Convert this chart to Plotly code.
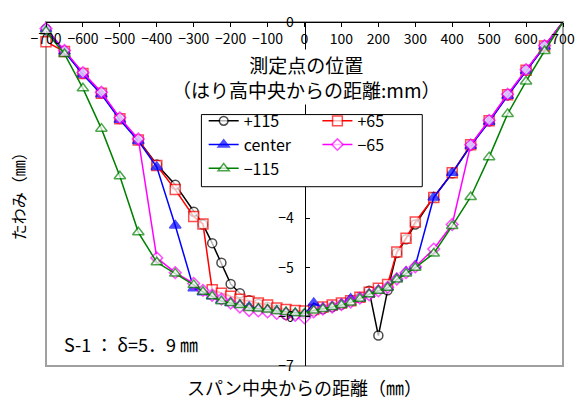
import plotly.graph_objects as go

# measurement positions (mm from span centre)
x_pos = [-700, -650, -600, -550, -500, -450, -400, -350,
         -300, -275, -250, -225, -200, -175, -150, -125, -100, -75, -50, -25,
         0, 25, 50, 75, 100, 125, 150, 175, 200, 225, 250, 275, 300,
         350, 400, 450, 500, 550, 600, 650, 700]

p115 = [-0.14, -0.60, -1.05, -1.45, -1.97, -2.40, -2.90, -3.31,
        -3.86, -4.12, -4.50, -4.90, -5.33, -5.52, -5.66, -5.74, -5.80, -5.85, -5.96, -5.95,
        -5.94, -5.88, -5.84, -5.80, -5.75, -5.68, -5.60, -5.47, -6.38, -5.46, -4.70, -4.42, -4.12,
        -3.56, -3.08, -2.51, -2.02, -1.49, -0.98, -0.49, 0.0]

p65 = [-0.40, -0.60, -1.05, -1.45, -1.97, -2.40, -2.92, -3.41,
       -3.96, -4.11, -5.45, -5.52, -5.58, -5.64, -5.68, -5.72, -5.76, -5.82, -5.85, -5.87,
       -5.88, -5.85, -5.80, -5.76, -5.72, -5.67, -5.60, -5.50, -5.42, -5.34, -4.68, -4.40, -4.07,
       -3.57, -3.07, -2.50, -2.01, -1.48, -0.98, -0.49, 0.0]

center = [-0.14, -0.60, -1.07, -1.47, -1.99, -2.42, -2.95, -4.14,
          -5.42, -5.50, -5.58, -5.66, -5.72, -5.76, -5.80, -5.84, -5.86, -5.88, -5.91, -5.93,
          -5.95, -5.72, -5.82, -5.80, -5.74, -5.63, -5.62, -5.54, -5.46, -5.40, -5.22, -5.08, -4.96,
          -3.57, -3.07, -2.52, -2.03, -1.50, -0.99, -0.50, 0.0]

m65 = [-0.13, -0.58, -1.03, -1.43, -1.95, -2.38, -4.80, -5.10,
       -5.32, -5.46, -5.56, -5.64, -5.72, -5.80, -5.87, -5.88, -5.90, -5.93, -5.95, -5.97,
       -6.02, -5.90, -5.84, -5.80, -5.75, -5.70, -5.62, -5.55, -5.47, -5.40, -5.23, -5.10, -4.98,
       -4.62, -4.12, -2.50, -2.00, -1.47, -0.97, -0.48, 0.0]

m115 = [-0.19, -0.65, -1.35, -2.17, -3.14, -4.28, -4.89, -5.12,
        -5.35, -5.49, -5.58, -5.68, -5.72, -5.76, -5.82, -5.83, -5.85, -5.88, -5.90, -5.92,
        -5.93, -5.87, -5.84, -5.80, -5.76, -5.71, -5.63, -5.54, -5.47, -5.41, -5.24, -5.12, -5.00,
        -4.71, -4.15, -3.56, -2.75, -1.87, -1.21, -0.59, 0.0]

series_names = ["+115", "+65", "center", "\u221265", "\u2212115"]
x_ticks = list(range(-700, 701, 100))
y_ticks = [0, -1, -2, -3, -4, -5, -6, -7]
# labels -1..-3 are hidden behind the title and legend box in the original
y_ticktext = ["0", "", "", "", "\u22124", "\u22125", "\u22126", "\u22127"]

FONT = "Noto Sans CJK JP"

styles = [
    dict(color="#000000", symbol="circle", fill="#ffffff", size=9, legend="legend"),
    dict(color="#ff0000", symbol="square", fill="#ffffff", size=10, legend="legend2"),
    dict(color="#0000ff", symbol="triangle-up", fill="#0000ff", size=10, legend="legend"),
    dict(color="#ff00ff", symbol="diamond", fill="#ffffff", size=9, legend="legend2"),
    dict(color="#008000", symbol="triangle-up", fill="#ffffff", size=10, legend="legend"),
]

fig = go.Figure()
n = len(x_pos)
for name, ys, st in zip(series_names, [p115, p65, center, m65, m115], styles):
    sizes = [st["size"]] * (n - 1) + [0]
    fig.add_trace(go.Scatter(
        x=x_pos, y=ys, name=name, mode="lines+markers",
        line=dict(color=st["color"], width=1.5),
        marker=dict(symbol=st["symbol"], size=sizes, color=st["fill"],
                    line=dict(color=st["color"], width=1.5)),
        legend=st["legend"], cliponaxis=False,
    ))

fig.update_layout(
    width=586, height=401,
    margin=dict(l=46, r=11, t=13, b=35),
    paper_bgcolor="white", plot_bgcolor="white",
    font=dict(family=FONT, color="black"),
    showlegend=True,
    xaxis=dict(range=[-700, 700], domain=[0, 1], anchor="free", position=1, side="bottom",
               showline=True, linecolor="black", linewidth=1, ticks="outside", ticklen=4,
               tickcolor="black", tickvals=x_ticks, showgrid=False, zeroline=False,
               ticklabeloverflow="allow",
               tickfont=dict(size=14, family=FONT)),
    yaxis=dict(range=[-7, 0], domain=[0, 1], anchor="free", position=0.5, side="left",
               showline=True, linecolor="black", linewidth=1, ticks="inside", ticklen=4,
               tickcolor="black", tickvals=y_ticks, ticktext=y_ticktext,
               showgrid=False, zeroline=False,
               ticklabelstandoff=8, tickfont=dict(size=14, family=FONT)),
    legend=dict(x=0.305, y=0.762, xanchor="left", yanchor="top", bgcolor="rgba(0,0,0,0)",
                font=dict(size=16, family=FONT), tracegroupgap=0),
    legend2=dict(x=0.525, y=0.762, xanchor="left", yanchor="top", bgcolor="rgba(0,0,0,0)",
                 font=dict(size=16, family=FONT), tracegroupgap=0),
    shapes=[
        dict(type="rect", xref="paper", yref="paper", x0=0, x1=1, y0=0, y1=1,
             line=dict(color="#a0a0a0", width=2), layer="below"),
        dict(type="rect", xref="paper", yref="paper", x0=0.3006, x1=0.7278, y0=0.5212, y1=0.7309,
             line=dict(color="black", width=1), fillcolor="white", layer="above"),
    ],
    annotations=[
        dict(text="測定点の位置<br>（はり高中央からの距離:mm）", xref="paper", yref="paper",
             x=0.502, y=0.84, xanchor="center", yanchor="middle", showarrow=False,
             bgcolor="white", font=dict(size=19, family=FONT)),
        dict(text="S-1 ： δ=5．9 ㎜", xref="paper", yref="paper", x=0.03, y=0.064,
             xanchor="left", yanchor="middle", showarrow=False, font=dict(size=18, family=FONT)),
        dict(text="たわみ（㎜）", xref="paper", yref="paper", x=-0.054, y=0.505,
             xanchor="center", yanchor="middle", textangle=-90, showarrow=False,
             font=dict(size=16, family=FONT)),
        dict(text="スパン中央からの距離（㎜）", xref="paper", yref="paper", x=0.5, y=-0.062,
             xanchor="center", yanchor="middle", showarrow=False, font=dict(size=18, family=FONT)),
    ],
)

fig.write_html("out.html")
